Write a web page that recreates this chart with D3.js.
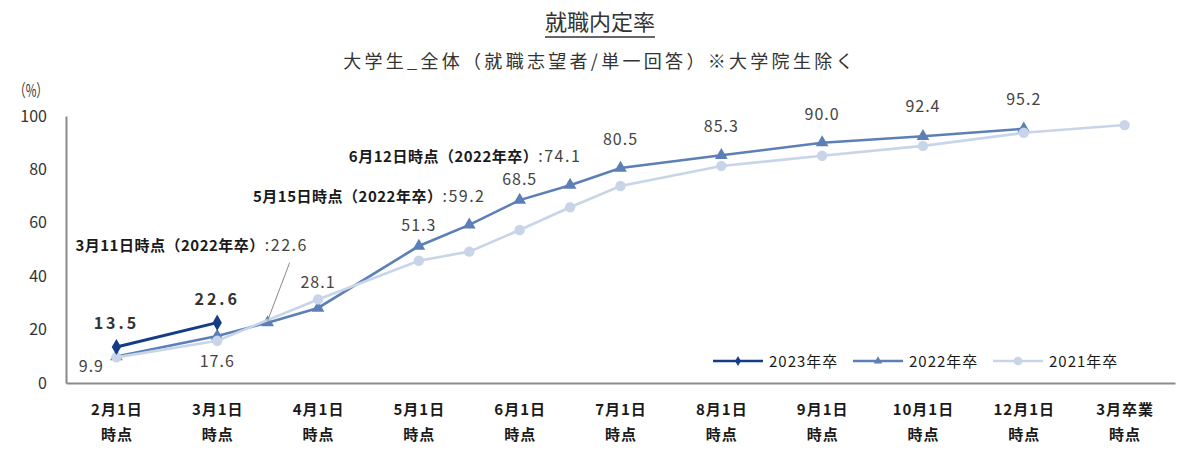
<!DOCTYPE html>
<html><head><meta charset="utf-8">
<script src="https://cdn.jsdelivr.net/npm/d3@7"></script>
<style>
body{margin:0;background:#fff;}
svg{display:block;}
</style></head><body>
<svg id="c" width="1200" height="455"></svg>
<script>
// ---------- data ----------
const titleText = "就職内定率";
const subtitleText = "大学生_全体（就職志望者/単一回答）※大学院生除く";
const unitText = "（%）";
const tickTop = ["2月1日","3月1日","4月1日","5月1日","6月1日","7月1日","8月1日","9月1日","10月1日","12月1日","3月卒業"];
const tickBottom = ["時点","時点","時点","時点","時点","時点","時点","時点","時点","時点","時点"];
const pointDates = ["2月1日","3月1日","3月11日","4月1日","5月1日","5月15日","6月1日","6月12日","7月1日","8月1日","9月1日","10月1日","12月1日","3月卒業"];
const pointSlot  = [0, 1, 1.5, 2, 3, 3.5, 4, 4.5, 5, 6, 7, 8, 9, 10];
const s2023 = [13.5, 22.6, null, null, null, null, null, null, null, null, null, null, null, null];
const s2022 = [9.9, 17.6, 22.6, 28.1, 51.3, 59.2, 68.5, 74.1, 80.5, 85.3, 90.0, 92.4, 95.2, null];
const s2021 = [9.6, 15.8, null, 31.3, 45.8, 49.2, 57.3, 65.8, 73.8, 81.3, 85.1, 88.8, 93.7, 96.6];
const seriesNames = ["2023年卒", "2022年卒", "2021年卒"];
const yTicks = [0, 20, 40, 60, 80, 100];
const calloutDates = ["3月11日", "5月15日", "6月12日"];
const calloutPrefix = ["3月11日時点（2022年卒）", "5月15日時点（2022年卒）", "6月12日時点（2022年卒）"];

// ---------- layout / style ----------
const colors = {"2023年卒": "#143d86", "2022年卒": "#5b7fb6", "2021年卒": "#c8d5e8"};
const numFont = "'Liberation Sans Narrow','Noto Sans CJK JP',sans-serif";
const jpFont = "'Noto Sans CJK JP','Noto Sans',sans-serif";
const lab2022 = {
  "2月1日": [-25, 15], "3月1日": [0, 31], "4月1日": [0, -20], "5月1日": [0, -15],
  "6月1日": [0, -15], "7月1日": [0, -23], "8月1日": [0, -23], "9月1日": [0, -23],
  "10月1日": [0, -24], "12月1日": [0, -24]
};
const calloutPos = {"3月11日": [-76, -72], "5月15日": [-100, -23], "6月12日": [-105, -23]};

const svg = d3.select("#c");
const x = d3.scaleLinear().domain([-0.5, 10.5]).range([66, 1175]);
const y = d3.scaleLinear().domain([0, 100]).range([383, 116]);

// title
const t = svg.append("text").attr("x", 600).attr("y", 30).attr("text-anchor", "middle")
  .style("font-family", jpFont).style("font-size", "22px").style("fill", "#333")
  .text(titleText);
const tw = t.node().getComputedTextLength();
svg.append("line").attr("x1", 600 - tw / 2).attr("x2", 600 + tw / 2).attr("y1", 37).attr("y2", 37)
  .attr("stroke", "#333").attr("stroke-width", 1.3);
svg.append("text").attr("x", 600).attr("y", 68).attr("text-anchor", "middle")
  .style("font-family", jpFont).style("font-size", "18px").style("letter-spacing", "3.3px").style("fill", "#333")
  .text(subtitleText);
svg.append("text").attr("x", 31).attr("y", 97).attr("text-anchor", "middle")
  .attr("textLength", 34).attr("lengthAdjust", "spacingAndGlyphs")
  .style("font-family", jpFont).style("font-size", "17px").style("fill", "#333")
  .text(unitText);

// axes
const yAx = svg.append("g").attr("transform", "translate(66,0)")
  .call(d3.axisLeft(y).tickValues(yTicks).tickSize(0).tickPadding(19));
yAx.select(".domain").attr("stroke", "#8a8a8a").attr("stroke-width", 2);
yAx.selectAll("text").style("font-family", numFont).style("font-size", "16px").style("fill", "#333");

const xAx = svg.append("g").attr("transform", "translate(0,383)")
  .call(d3.axisBottom(x).tickValues(d3.range(tickTop.length)).tickSize(0).tickSizeOuter(0).tickFormat(""));
xAx.select(".domain").attr("stroke", "#8a8a8a").attr("stroke-width", 2);
xAx.selectAll(".tick").each(function(d, i) {
  const g = d3.select(this);
  const tx = g.append("text").attr("text-anchor", "middle")
    .style("font-family", jpFont).style("font-size", "15px").style("font-weight", "bold")
    .style("letter-spacing", "1px").style("fill", "#1a1a1a");
  tx.append("tspan").attr("x", 0).attr("y", 32).text(tickTop[i]);
  tx.append("tspan").attr("x", 0).attr("y", 57).text(tickBottom[i]);
});

// series
const series = [
  {name: "2022年卒", vals: s2022, marker: "triangle"},
  {name: "2021年卒", vals: s2021, marker: "circle"},
  {name: "2023年卒", vals: s2023, marker: "diamond"}
];
const symType = {triangle: d3.symbolTriangle, circle: d3.symbolCircle, diamond: d3.symbolDiamond};
const symSize = {triangle: 70, circle: 85, diamond: 75};
const line = d3.line().x(d => x(d.p)).y(d => y(d.v));
series.forEach(s => {
  const pts = pointDates.map((dt, i) => ({dt, p: pointSlot[i], v: s.vals[i]})).filter(d => d.v != null);
  svg.append("path").datum(pts).attr("d", line).attr("fill", "none")
    .attr("stroke", colors[s.name]).attr("stroke-width", s.marker === "diamond" ? 3 : 2.6);
  svg.selectAll(null).data(pts).enter().append("path")
    .attr("d", d3.symbol().type(symType[s.marker]).size(symSize[s.marker]))
    .attr("transform", d => `translate(${x(d.p)},${y(d.v)})`)
    .attr("fill", colors[s.name]);
});

// labels 2023
const p2023 = pointDates.map((dt, i) => ({p: pointSlot[i], v: s2023[i]})).filter(d => d.v != null);
svg.selectAll(null).data(p2023).enter().append("text")
  .attr("x", d => x(d.p)).attr("y", d => y(d.v) - 18).attr("text-anchor", "middle")
  .style("font-family", numFont).style("font-size", "16px").style("font-weight", "bold")
  .style("letter-spacing", "3px").style("fill", "#333")
  .text(d => d.v.toFixed(1));

// labels 2022
const p2022 = pointDates.map((dt, i) => ({dt, p: pointSlot[i], v: s2022[i]})).filter(d => lab2022[d.dt]);
svg.selectAll(null).data(p2022).enter().append("text")
  .attr("x", d => x(d.p) + lab2022[d.dt][0]).attr("y", d => y(d.v) + lab2022[d.dt][1]).attr("text-anchor", "middle")
  .style("font-family", numFont).style("font-size", "16px")
  .style("letter-spacing", "1px").style("fill", "#444")
  .text(d => d.v.toFixed(1));

// callouts
calloutDates.forEach((dt, k) => {
  const i = pointDates.indexOf(dt);
  const px = x(pointSlot[i]), py = y(s2022[i]);
  const [dx, dy] = calloutPos[dt];
  const tx = svg.append("text").attr("x", px + dx).attr("y", py + dy).attr("text-anchor", "middle")
    .style("font-size", "15px");
  tx.append("tspan").style("font-family", jpFont).style("font-weight", "bold").style("letter-spacing", "0.5px")
    .style("fill", "#1a1a1a").text(calloutPrefix[k]);
  tx.append("tspan").style("font-family", numFont).style("letter-spacing", "1.5px").style("font-size", "16px")
    .style("fill", "#444").text(":" + s2022[i].toFixed(1));
  if (dt === "3月11日") {
    svg.append("line").attr("x1", px + 22).attr("y1", py - 60).attr("x2", px).attr("y2", py - 2)
      .attr("stroke", "#8a8a8a").attr("stroke-width", 1);
  }
});

// legend
const legendOrder = ["2023年卒", "2022年卒", "2021年卒"];
const legMarker = {"2023年卒": "diamond", "2022年卒": "triangle", "2021年卒": "circle"};
const legSize = {diamond: 30, triangle: 30, circle: 60};
const lg = svg.append("g").attr("transform", "translate(713,361)");
legendOrder.forEach((nm, i) => {
  const g = lg.append("g").attr("transform", `translate(${i * 140},0)`);
  g.append("line").attr("x1", 0).attr("x2", 50).attr("stroke", colors[nm]).attr("stroke-width", 2.6);
  g.append("path").attr("d", d3.symbol().type(symType[legMarker[nm]]).size(legSize[legMarker[nm]]))
    .attr("transform", "translate(25,0)").attr("fill", colors[nm]);
  g.append("text").attr("x", 56).attr("y", 5.5)
    .style("font-family", jpFont).style("font-size", "15px").style("letter-spacing", "1px").style("fill", "#1a1a1a")
    .text(nm);
});
</script>
</body></html>
